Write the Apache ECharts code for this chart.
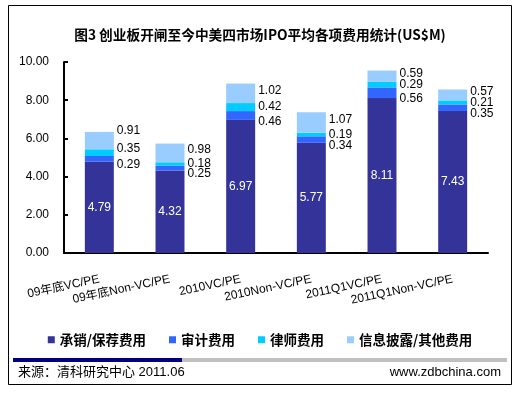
<!DOCTYPE html>
<html><head><meta charset="utf-8">
<script src="https://cdn.jsdelivr.net/npm/echarts@6/dist/echarts.min.js"></script>
<style>html,body{margin:0;padding:0;background:#fff}#c{width:520px;height:394px}</style>
</head><body><div id="c"></div>
<script>
const categories = ['09年底VC/PE','09年底Non-VC/PE','2010VC/PE','2010Non-VC/PE','2011Q1VC/PE','2011Q1Non-VC/PE'];
const seriesNames = ['承销/保荐费用','审计费用','律师费用','信息披露/其他费用'];
const underwriting = [4.79,4.32,6.97,5.77,8.11,7.43];
const audit = [0.29,0.25,0.46,0.34,0.56,0.35];
const legal = [0.35,0.18,0.42,0.19,0.29,0.21];
const other = [0.91,0.98,1.02,1.07,0.59,0.57];
const yMin = 0, yMax = 10, yStep = 2;

const LAT = 'Liberation Sans, Arial, Noto Sans CJK SC, sans-serif';
const CJK = 'Noto Sans CJK SC, sans-serif';
const colors = ['#333399','#3366FF','#00CCFF','#99CCFF'];
const fmt = p => p.value.toFixed(2);
const sideLabel = (dy) => ({show:true, position:'right', distance:3, offset:[0,dy], color:'#000', fontSize:12, fontFamily:LAT, formatter:fmt});

// first bar's top label sits higher in the reference
const otherData = other.map((v, i) => i === 0 ? {value:v, label:{offset:[0,-10]}} : v);
const legalData = legal.map((v, i) => i === 0 ? {value:v, label:{offset:[0,-4]}} : v);

const chart = echarts.init(document.getElementById('c'), null, {renderer:'canvas'});
chart.setOption({
  backgroundColor:'#fff',
  animation:false,
  title:{text:'图3 创业板开闸至今中美四市场IPO平均各项费用统计(US$M)', left:'center', top:23,
    textStyle:{fontSize:13.7, fontWeight:'bold', color:'#000', fontFamily:CJK}},
  grid:{left:64, right:32, top:62, bottom:141, containLabel:false},
  legend:{data:seriesNames, left:'center', top:328, itemWidth:7, itemHeight:7, itemGap:23, icon:'rect',
    textStyle:{fontSize:13.5, fontWeight:'bold', color:'#000', fontFamily:CJK}},
  xAxis:{type:'category', data:categories,
    axisLine:{lineStyle:{color:'#000', width:2}},
    axisTick:{inside:true, length:4, lineStyle:{color:'#000', width:2}},
    axisLabel:{rotate:12, margin:26, fontSize:12, color:'#000', fontFamily:LAT, interval:0}},
  yAxis:{type:'value', min:yMin, max:yMax, interval:yStep,
    axisLine:{show:true, lineStyle:{color:'#000', width:2}},
    axisTick:{show:true, inside:true, length:4, lineStyle:{color:'#000', width:2}},
    splitLine:{show:false},
    axisLabel:{formatter:v=>v.toFixed(2), fontSize:12, color:'#000', fontFamily:LAT, margin:15}},
  series:[
    {name:seriesNames[0], type:'bar', stack:'a', data:underwriting, barWidth:'41%', itemStyle:{color:colors[0]},
      label:{show:true, position:'inside', color:'#fff', fontSize:12, fontFamily:LAT, formatter:fmt}},
    {name:seriesNames[1], type:'bar', stack:'a', data:audit, itemStyle:{color:colors[1]}, label:sideLabel(6)},
    {name:seriesNames[2], type:'bar', stack:'a', data:legalData, itemStyle:{color:colors[2]}, label:sideLabel(0)},
    {name:seriesNames[3], type:'bar', stack:'a', data:otherData, itemStyle:{color:colors[3]}, label:sideLabel(-3)}
  ],
  graphic:[
    {type:'rect', shape:{x:8.5, y:5.5, width:503, height:379}, style:{fill:null, stroke:'#000', lineWidth:1}, silent:true},
    {type:'rect', shape:{x:13, y:358, width:169, height:4}, style:{fill:'#000080'}},
    {type:'rect', shape:{x:182, y:358, width:325, height:4}, style:{fill:'#C0C0C0'}},
    {type:'text', left:18, top:366, style:{text:'来源：清科研究中心 2011.06', fontSize:13, fill:'#000', fontFamily:LAT}},
    {type:'text', right:19, top:366, style:{text:'www.zdbchina.com', fontSize:13, fill:'#000', fontFamily:LAT}}
  ]
});
</script></body></html>
